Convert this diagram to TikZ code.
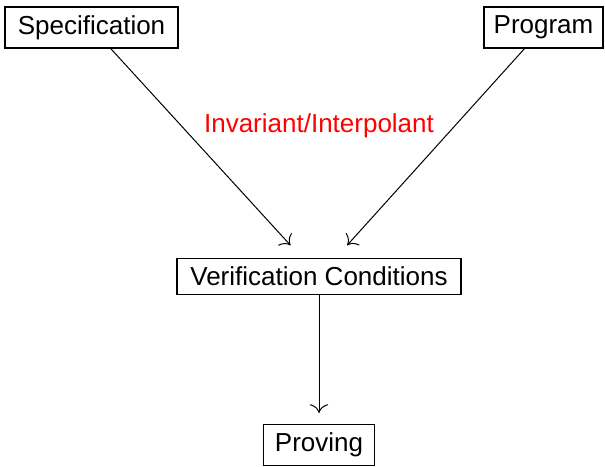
\documentclass[tikz,border=0pt]{standalone}
\usepackage{fontspec}
\setmainfont{Liberation Sans}
\usetikzlibrary{arrows.meta}
\begin{document}
\begin{tikzpicture}[x=1pt,y=-1pt,
  box/.style={draw,line width=1.1pt,inner sep=0pt,font=\fontsize{26}{30}\selectfont},
  conn/.style={line width=1pt,-{To[scale=2.3]}},
  lbl/.style={text=red,font=\fontsize{26}{30}\selectfont}]
\useasboundingbox (0,0) rectangle (605,466);
\node[box,minimum width=173pt,minimum height=41pt] (spec) at (91.5,27.5) {Specification};
\node[box,minimum width=119pt,minimum height=41pt] (prog) at (543.5,27.5) {Program};
\node[box,minimum width=284pt,minimum height=36pt] (vc) at (319,276.5) {Verification Conditions};
\node[box,minimum width=111pt,minimum height=41pt] (prov) at (319,445) {Proving};
\node[lbl] (inv) at (319,125.5) {Invariant/Interpolant};
\draw[conn,shorten >=17pt] (spec) -- (vc);
\draw[conn,shorten >=17pt] (prog) -- (vc);
\draw[conn,shorten >=11pt] (vc) -- (prov);
\end{tikzpicture}
\end{document}
